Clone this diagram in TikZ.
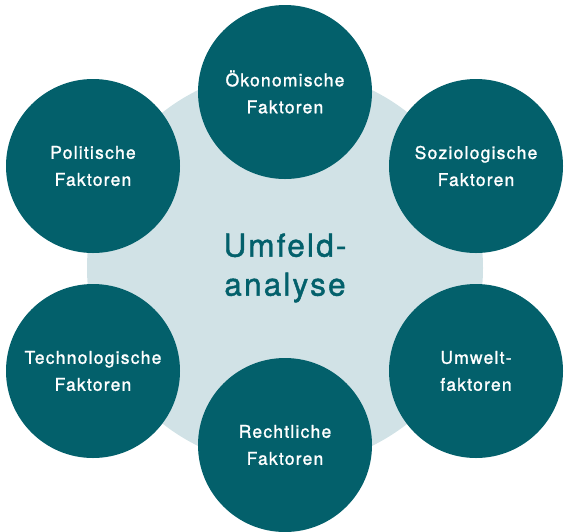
\documentclass[tikz,border=0pt]{standalone}
\usepackage{fontspec}
\setmainfont{TeX Gyre Heros}[LetterSpace=7,Ligatures=NoCommon,FakeBold=1.3]
\definecolor{tealdark}{HTML}{03606B}
\definecolor{teallight}{HTML}{D1E2E6}
\tikzset{
  faktor/.style={circle, fill=tealdark, minimum size=174pt, inner sep=0pt,
    text=white, align=center, font=\fontsize{17.5}{27}\selectfont},
  kern/.style={circle, fill=teallight, minimum size=396pt, inner sep=0pt,
    text=tealdark, align=center, font=\fontsize{31.5}{39}\selectfont}
}
\begin{document}
\begin{tikzpicture}[x=1pt,y=-1pt]
  \useasboundingbox (0,0) rectangle (564,531);
  \node[kern] (mitte) at (285,268) {Umfeld-\\analyse};

  \node[faktor] (oeko) at (285,92)  {Ökonomische\\Faktoren};
  \node[faktor] (sozio) at (476,166) {Soziologische\\Faktoren};
  \node[faktor] (umwelt) at (476,371) {Umwelt-\\faktoren};
  \node[faktor] (recht) at (285,445) {Rechtliche\\Faktoren};
  \node[faktor] (techno) at (93,371) {Technologische\\Faktoren};
  \node[faktor] (politik) at (93,166) {Politische\\Faktoren};
\end{tikzpicture}
\end{document}
